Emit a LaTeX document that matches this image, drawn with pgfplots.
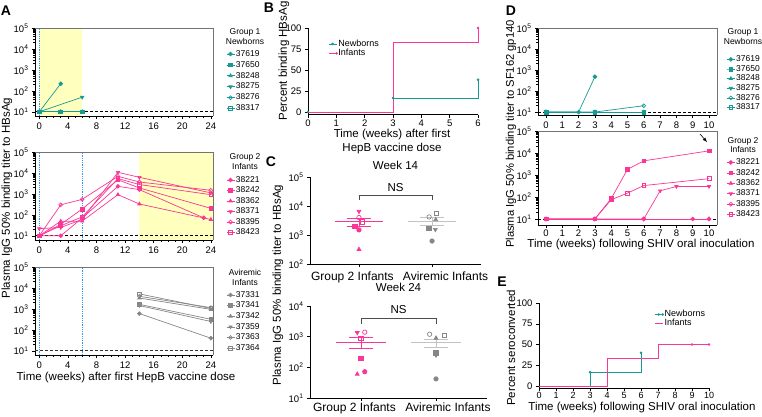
\documentclass[border=0pt]{standalone}
\usepackage{fontspec}
\setmainfont{Liberation Sans}
\usepackage{pgfplots}
\pgfplotsset{compat=1.18}
\definecolor{tealc}{RGB}{22,155,148}
\definecolor{pinkc}{RGB}{250,55,150}
\definecolor{grayc}{RGB}{135,135,135}
\definecolor{lgrayc}{RGB}{195,195,195}
\definecolor{yellc}{RGB}{255,255,190}
\definecolor{bluec}{RGB}{45,150,255}
\newcommand{\fTk}{\fontsize{9.5}{10}\selectfont}
\newcommand{\fLb}{\fontsize{11.5}{14}\selectfont}
\newcommand{\fLg}{\fontsize{8.5}{9.5}\selectfont}
\newcommand{\fCat}{\fontsize{12}{14}\selectfont}
\newcommand{\sx}[1]{10\textsuperscript{#1}}
\tikzset{
  mA/.style={mark=*},
  mB/.style={mark=square*},
  mC/.style={mark=triangle*},
  mD/.style={mark=triangle*, mark options={rotate=180}},
  mE/.style={mark=o},
  mF/.style={mark=square},
}
\pgfplotsset{
  legend image code/.code={\draw[mark repeat=2,mark phase=2,#1] plot coordinates {(0pt,0pt)(4pt,0pt)(8pt,0pt)};},
  every axis plot/.append style={line width=0.7pt, mark size=1.9pt},
}
\pgfplotsset{
  base/.style={scale only axis, anchor=south west, clip=false,
    axis x line*=bottom, axis y line*=left,
    axis line style={-, line width=0.7pt, black},
    tick align=outside, major tick length=3pt, minor tick length=1.6pt,
    every tick/.style={black, line width=0.5pt},
    tick label style={font=\fTk},
    /pgf/number format/assume math mode=true,
    legend cell align=left},
  legA/.style={legend style={draw=none, fill=none, font=\fLg, anchor=north west, nodes={inner sep=1pt}}},
}
\begin{document}
\begin{tikzpicture}
\path[use as bounding box] (0pt,0pt) rectangle (762pt,416pt);
% ---------------- A top
\begin{axis}[base, legA, ymode=log, ytick={10,100,1000,10000,100000},
  yticklabels={\sx{1},\sx{2},\sx{3},\sx{4},\sx{5}}, at={(35pt,300pt)}, width=178pt, height=88pt,
  xmin=-0.6, xmax=24.3, ymin=6.3, ymax=1e5, xtick={0,4,...,24}, minor x tick num=3,
  legend style={at={(1.056,0.784)}, row sep=1.5pt}]
\fill[yellc] (axis cs:0,6.3) rectangle (axis cs:6,1e5);
\draw[bluec, densely dotted, line width=0.8pt] (axis cs:0,6.3) -- (axis cs:0,1e5);
\draw[black, densely dashed, line width=0.6pt] (axis cs:-0.6,10) -- (axis cs:24.3,10);
\addplot[tealc, mA] coordinates {(0,10)(3,220)}; \addlegendentry{37619}
\addplot[tealc, mB] coordinates {(0,10)(3,10)(6,10)}; \addlegendentry{37650}
\addplot[tealc, mC] coordinates {(0,10)(3,10)(6,10)}; \addlegendentry{38248}
\addplot[tealc, mD] coordinates {(0,10)(6,50)}; \addlegendentry{38275}
\addplot[tealc, mE] coordinates {(0,10)(3,10)(6,10)}; \addlegendentry{38276}
\addplot[tealc, mF] coordinates {(0,10)(3,10)(6,10)}; \addlegendentry{38317}
\draw[black!55, line width=0.6pt] (rel axis cs:0,1) -- (rel axis cs:1,1) -- (rel axis cs:1,0);
\end{axis}
% ---------------- A middle
\begin{axis}[base, legA, ymode=log, ytick={10,100,1000,10000,100000},
  yticklabels={\sx{1},\sx{2},\sx{3},\sx{4},\sx{5}}, at={(35pt,176pt)}, width=178pt, height=88pt,
  xmin=-0.6, xmax=24.3, ymin=6.3, ymax=1e5, xtick={0,4,...,24}, minor x tick num=3,
  legend style={at={(1.056,0.761)}, row sep=1.1pt}]
\fill[yellc] (axis cs:14,6.3) rectangle (axis cs:24.3,1e5);
\draw[bluec, densely dotted, line width=0.8pt] (axis cs:0,6.3) -- (axis cs:0,1e5);
\draw[bluec, densely dotted, line width=0.8pt] (axis cs:6,6.3) -- (axis cs:6,1e5);
\draw[black, densely dashed, line width=0.6pt] (axis cs:-0.6,10) -- (axis cs:24.3,10);
\addplot[pinkc, mA] coordinates {(0,10)(3,10)(6,70)(11,2300)(14,1600)(23,72)}; \addlegendentry{38221}
\addplot[pinkc, mB] coordinates {(0,10)(3,35)(6,190)(11,4700)(14,1930)(24,205)}; \addlegendentry{38242}
\addplot[pinkc, mC] coordinates {(0,10)(3,50)(6,50)(11,920)(14,330)(24,60)}; \addlegendentry{38362}
\addplot[pinkc, mD] coordinates {(0,22)(3,25)(6,60)(11,10700)(14,6200)(24,1120)}; \addlegendentry{38371}
\addplot[pinkc, mE] coordinates {(0,10)(3,300)(6,550)(11,6900)(14,3700)(24,1490)}; \addlegendentry{38395}
\addplot[pinkc, mF] coordinates {(0,10)(3,30)(6,80)(11,5400)(14,2800)(24,920)}; \addlegendentry{38423}
\draw[black!55, line width=0.6pt] (rel axis cs:0,1) -- (rel axis cs:1,1) -- (rel axis cs:1,0);
\end{axis}
% ---------------- A bottom
\begin{axis}[base, legA, ymode=log, ytick={10,100,1000,10000,100000},
  yticklabels={\sx{1},\sx{2},\sx{3},\sx{4},\sx{5}}, at={(35pt,61pt)}, width=178pt, height=88pt,
  xmin=-0.6, xmax=24.3, ymin=6.3, ymax=1e5, xtick={0,4,...,24}, minor x tick num=3,
  legend style={at={(1.056,0.761)}, row sep=1.2pt}]
\draw[bluec, densely dotted, line width=0.8pt] (axis cs:0,6.3) -- (axis cs:0,1e5);
\draw[bluec, densely dotted, line width=0.8pt] (axis cs:6,6.3) -- (axis cs:6,1e5);
\draw[black!80, densely dashed, line width=0.9pt] (axis cs:-0.6,10) -- (axis cs:24.3,10);
\addplot[grayc, mA] coordinates {(14,600)(24,40)}; \addlegendentry{37331}
\addplot[grayc, mB] coordinates {(14,1650)(24,320)}; \addlegendentry{37341}
\addplot[grayc, mC] coordinates {(14,3300)(24,950)}; \addlegendentry{37342}
\addplot[grayc, mD] coordinates {(14,1450)(24,250)}; \addlegendentry{37359}
\addplot[grayc, mE] coordinates {(14,4000)(24,1150)}; \addlegendentry{37363}
\addplot[grayc, mF] coordinates {(14,5200)(24,1050)}; \addlegendentry{37364}
\draw[black!55, line width=0.6pt] (rel axis cs:0,1) -- (rel axis cs:1,1) -- (rel axis cs:1,0);
\end{axis}
% ---------------- B
\begin{axis}[base, at={(308pt,301.5pt)}, width=170pt, height=86.5pt,
  xmin=0, xmax=6, ymin=-3, ymax=100, xtick={0,...,6}, ytick={0,25,50,75,100},
  xticklabel style={yshift=1pt},
  legend style={draw=none, fill=none, font=\fontsize{9}{10}\selectfont, anchor=north west, at={(0.1,0.9)}, row sep=-0.5pt, nodes={inner sep=1pt}}]
\addplot[tealc, const plot, mark=*, mark size=0.9pt] coordinates {(0,0)(3,16.7)(6,38.5)}; \addlegendentry{Newborns}
\addplot[pinkc, const plot, mark=*, mark size=0.9pt, mark indices={3}] coordinates {(0,0)(3,83.3)(6,100)}; \addlegendentry{Infants}
\end{axis}
% ---------------- C top
\begin{axis}[base, at={(310pt,152pt)}, width=171pt, height=87pt,
  xmin=0.33, xmax=2.67, ymode=log, ymin=100, ymax=1e5, yminorticks=false,
  ytick={100,1000,10000,100000}, yticklabels={\sx{2},\sx{3},\sx{4},\sx{5}},
  xtick={1,2}, xticklabels={},
  title={Week 14}, title style={font=\fLb, at={(0.5,1)}, anchor=south, yshift=0pt, inner sep=1pt},
  every axis plot/.append style={mark size=2.2pt}]
\addplot[black!70, line width=0.7pt] coordinates {(1,15800)(1,23500)(2,23500)(2,15800)};
\node[font=\fLb] at (axis cs:1.5,42000) {NS};
\node[font=\fCat, anchor=base, inner sep=0pt] at (axis cs:0.91,100) [yshift=-16pt] {Group 2 Infants};
\node[font=\fCat, anchor=base, inner sep=0pt] at (axis cs:2.185,100) [yshift=-16pt] {Aviremic Infants};
\addplot[pinkc, line width=0.9pt] coordinates {(0.67,2900)(1.33,2900)};
\addplot[pinkc, line width=0.9pt] coordinates {(0.84,3800)(1.16,3800)};
\addplot[pinkc, line width=0.9pt] coordinates {(0.84,2050)(1.16,2050)};
\addplot[pinkc, line width=0.9pt] coordinates {(1,2050)(1,3800)};
\addplot[pinkc, only marks, mD] coordinates {(1,6500)};
\addplot[pinkc, only marks, mE] coordinates {(1,4000)};
\addplot[pinkc, only marks, mF] coordinates {(1.045,2800)};
\addplot[pinkc, only marks, mB] coordinates {(0.945,2000)};
\addplot[pinkc, only marks, mA] coordinates {(1,1500)};
\addplot[pinkc, only marks, mC] coordinates {(1,320)};
\addplot[lgrayc, line width=0.9pt] coordinates {(1.67,3000)(2.33,3000)};
\addplot[lgrayc, line width=0.9pt] coordinates {(1.84,4000)(2.16,4000)};
\addplot[lgrayc, line width=0.9pt] coordinates {(1.84,2200)(2.16,2200)};
\addplot[lgrayc, line width=0.9pt] coordinates {(2,2200)(2,4000)};
\addplot[grayc, only marks, mE] coordinates {(1.96,4200)};
\addplot[grayc, only marks, mF] coordinates {(2.06,5500)};
\addplot[grayc, only marks, mC] coordinates {(2.05,3400)};
\addplot[grayc, only marks, mB] coordinates {(1.955,1700)};
\addplot[grayc, only marks, mD] coordinates {(2.045,1550)};
\addplot[grayc, only marks, mA] coordinates {(2,620)};
\end{axis}
% ---------------- C bottom
\begin{axis}[base, at={(310pt,18pt)}, width=177pt, height=92pt,
  xmin=0.32, xmax=2.68, ymode=log, ymin=10, ymax=1e4, yminorticks=false,
  ytick={10,100,1000,10000}, yticklabels={\sx{1},\sx{2},\sx{3},\sx{4}},
  xtick={1,2}, xticklabels={},
  title={Week 24}, title style={font=\fLb, at={(0.5,1)}, anchor=south, yshift=7pt, inner sep=1pt},
  every axis plot/.append style={mark size=2.2pt}]
\addplot[black!70, line width=0.7pt] coordinates {(1,2530)(1,3950)(2,3950)(2,2530)};
\node[font=\fLb] at (axis cs:1.5,7400) {NS};
\node[font=\fCat, anchor=base, inner sep=0pt] at (axis cs:0.913,10) [yshift=-13.5pt] {Group 2 Infants};
\node[font=\fCat, anchor=base, inner sep=0pt] at (axis cs:2.16,10) [yshift=-13.5pt] {Aviremic Infants};
\addplot[pinkc, line width=0.9pt] coordinates {(0.67,660)(1.33,660)};
\addplot[pinkc, line width=0.9pt] coordinates {(0.84,930)(1.16,930)};
\addplot[pinkc, line width=0.9pt] coordinates {(0.84,400)(1.16,400)};
\addplot[pinkc, line width=0.9pt] coordinates {(1,400)(1,930)};
\addplot[pinkc, only marks, mD] coordinates {(0.95,1350)};
\addplot[pinkc, only marks, mE] coordinates {(1.05,1400)};
\addplot[pinkc, only marks, mF] coordinates {(1,880)};
\addplot[pinkc, only marks, mB] coordinates {(1,195)};
\addplot[pinkc, only marks, mC] coordinates {(0.95,60)};
\addplot[pinkc, only marks, mA] coordinates {(1.05,72)};
\addplot[lgrayc, line width=0.9pt] coordinates {(1.67,650)(2.33,650)};
\addplot[lgrayc, line width=0.9pt] coordinates {(1.84,820)(2.16,820)};
\addplot[lgrayc, line width=0.9pt] coordinates {(1.84,430)(2.16,430)};
\addplot[lgrayc, line width=0.9pt] coordinates {(2,430)(2,820)};
\addplot[grayc, only marks, mE] coordinates {(1.915,1200)};
\addplot[grayc, only marks, mF] coordinates {(2.11,1100)};
\addplot[grayc, only marks, mC] coordinates {(2,900)};
\addplot[grayc, only marks, mB] coordinates {(2,300)};
\addplot[grayc, only marks, mD] coordinates {(2,250)};
\addplot[grayc, only marks, mA] coordinates {(2,42)};
\end{axis}
% ---------------- D top
\begin{axis}[base, legA, ymode=log, ytick={10,100,1000,10000,100000},
  yticklabels={\sx{1},\sx{2},\sx{3},\sx{4},\sx{5}}, at={(538pt,300.7pt)}, width=179pt, height=87.3pt,
  xmin=-0.49, xmax=10.49, ymin=7, ymax=1e5, xtick={0,...,10},
  legend style={at={(1.035,0.72)}, row sep=0.2pt}]
\draw[black, densely dashed, line width=0.6pt] (axis cs:-0.49,10) -- (axis cs:10.49,10);
\addplot[tealc, mA] coordinates {(0,10)(2,10)(3,480)}; \addlegendentry{37619}
\addplot[tealc, mB] coordinates {(0,10)(3,10)(6,10)}; \addlegendentry{37650}
\addplot[tealc, mC] coordinates {(0,10)(3,10)(6,10)}; \addlegendentry{38248}
\addplot[tealc, mD] coordinates {(0,10)(3,10)(6,10)}; \addlegendentry{38275}
\addplot[tealc, mE] coordinates {(0,10)(3,10)(6,20)}; \addlegendentry{38276}
\addplot[tealc, mF] coordinates {(0,10)(3,10)(6,10)}; \addlegendentry{38317}
\draw[black!55, line width=0.6pt] (rel axis cs:0,1) -- (rel axis cs:1,1) -- (rel axis cs:1,0);
\end{axis}
% ---------------- D bottom
\begin{axis}[base, legA, ymode=log, ytick={10,100,1000,10000,100000},
  yticklabels={\sx{1},\sx{2},\sx{3},\sx{4},\sx{5}}, at={(538pt,191pt)}, width=179pt, height=94pt,
  xmin=-0.49, xmax=10.49, ymin=5.3, ymax=1e5, xtick={0,...,10},
  xticklabel style={yshift=1.5pt},
  legend style={at={(1.035,0.739)}, row sep=1pt}]
\draw[black, densely dashed, line width=0.6pt] (axis cs:-0.49,10) -- (axis cs:10.49,10);
\addplot[pinkc, mA] coordinates {(0,10)(3,10)(6,10)(9,10)(10,10)}; \addlegendentry{38221}
\addplot[pinkc, mB] coordinates {(0,10)(3,10)(4,85)(5,1800)(6,4400)(10,12500)}; \addlegendentry{38242}
\addplot[pinkc, mC] coordinates {(0,10)(3,10)(6,10)(10,10)}; \addlegendentry{38362}
\addplot[pinkc, mD] coordinates {(0,10)(3,10)(6,10)(7,190)(8,300)(10,300)}; \addlegendentry{38371}
\addplot[pinkc, mE] coordinates {(0,10)(3,10)(6,10)(10,10)}; \addlegendentry{38395}
\addplot[pinkc, mF] coordinates {(0,10)(3,10)(4,75)(5,150)(6,330)(10,680)}; \addlegendentry{38423}
\draw[-latex, line width=0.6pt] (axis cs:9.45,73000) -- (axis cs:9.88,31000);
\draw[black!55, line width=0.6pt] (rel axis cs:0,1) -- (rel axis cs:1,1) -- (rel axis cs:1,0);
\end{axis}
% ---------------- E
\begin{axis}[base, at={(539pt,28pt)}, width=170pt, height=85pt,
  xmin=0, xmax=10, ymin=-2.4, ymax=100, xtick={0,...,10}, ytick={0,25,50,75,100},
  xticklabel style={yshift=2pt, font=\fontsize{9}{10}\selectfont},
  legend style={draw=none, fill=none, font=\fontsize{9}{10}\selectfont, anchor=north west, at={(0.66,0.95)}, row sep=-1.5pt, nodes={inner sep=1pt}}]
\addplot[tealc, const plot, mark=*, mark size=0.9pt, mark indices={2,3}] coordinates {(0,0)(3,16.7)(6,40)}; \addlegendentry{Newborns}
\addplot[pinkc, const plot, mark=*, mark size=0.9pt, mark indices={4}] coordinates {(0,0)(4,33.3)(7,50)(10,50)}; \addlegendentry{Infants}
\addplot[pinkc, only marks, mark=*, mark size=0.9pt, forget plot] coordinates {(9,50)};
\end{axis}
% ---------------- texts
\node[font=\fLg, align=center] at (245pt,379.5pt) {Group 1\\Newborns};
\node[font=\fLg, align=center] at (245pt,254.5pt) {Group 2\\Infants};
\node[font=\fLg, align=center] at (245pt,138.5pt) {Aviremic\\Infants};
\node[font=\fLg, align=center] at (743pt,379.5pt) {Group 1\\Newborns};
\node[font=\fLg, align=center] at (743pt,271pt) {Group 2\\Infants};
\node[font=\fLb, rotate=90] at (7pt,218pt) {Plasma IgG 50\% binding titer to HBsAg};
\node[font=\fLb, rotate=90] at (284pt,355pt) {Percent binding HBsAg};
\node[font=\fLb, rotate=90] at (278pt,131pt) {Plasma IgG 50\% binding titer to HBsAg};
\node[font=\fontsize{11.2}{13}\selectfont, rotate=90] at (511pt,282pt) {Plasma IgG 50\% binding titer to SF162 gp140};
\node[font=\fLb, rotate=90] at (511pt,68pt) {Percent seroconverted};
\node[font=\fLb] at (126pt,38pt) {Time (weeks) after first HepB vaccine dose};
\node[font=\fLb, align=center] at (392pt,274pt) {Time (weeks) after first\\HepB vaccine dose};
\node[font=\fLb] at (641pt,171pt) {Time (weeks) following SHIV oral inoculation};
\node[font=\fLb] at (642pt,8pt) {Time (weeks) following SHIV oral inoculation};
\node[font=\bfseries\fontsize{14}{14}\selectfont] at (6pt,405pt) {A};
\node[font=\bfseries\fontsize{14}{14}\selectfont] at (269pt,408pt) {B};
\node[font=\bfseries\fontsize{14}{14}\selectfont] at (271pt,254pt) {C};
\node[font=\bfseries\fontsize{14}{14}\selectfont] at (511pt,405pt) {D};
\node[font=\bfseries\fontsize{14}{14}\selectfont] at (502pt,134pt) {E};
\end{tikzpicture}
\end{document}
